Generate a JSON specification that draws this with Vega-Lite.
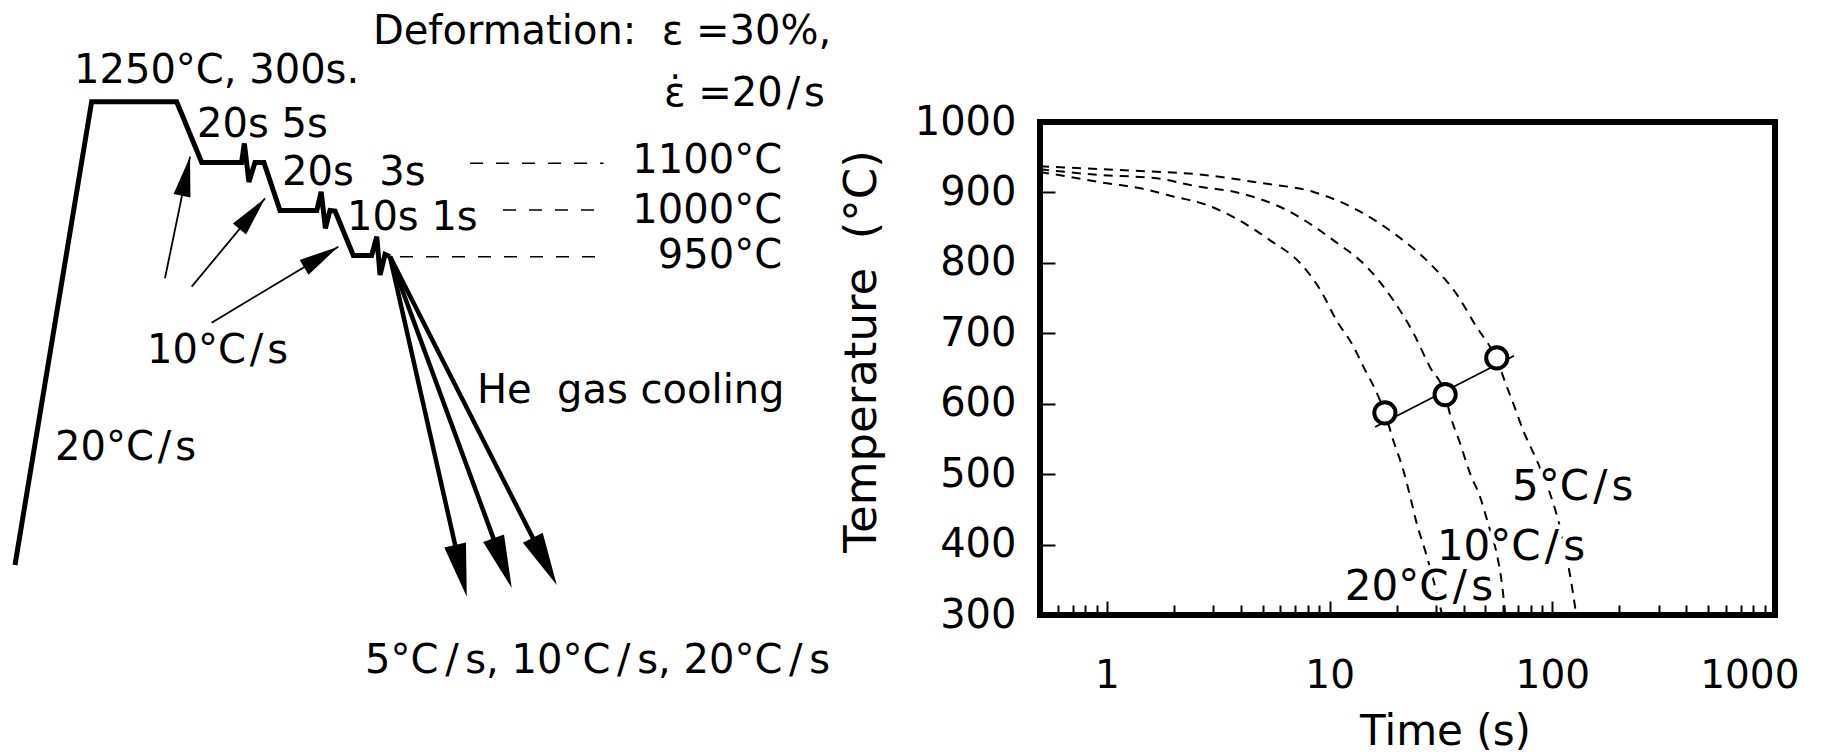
{
  "$schema": "https://vega.github.io/schema/vega-lite/v6.json",
  "width": 735,
  "height": 493,
  "padding": {"left": 1040, "top": 122, "right": 54, "bottom": 140},
  "autosize": {"type": "none"},
  "background": "white",
  "config": {"view": {"stroke": null}, "font": "DejaVu Sans"},
  "datasets": {
    "path": [
      {"step": 1, "sx": 0.82, "sy": 25.17},
      {"step": 2, "sx": 5.01, "sy": 86.53},
      {"step": 3, "sx": 9.66, "sy": 86.53},
      {"step": 4, "sx": 11.03, "sy": 78.48},
      {"step": 5, "sx": 13.21, "sy": 78.48},
      {"step": 6, "sx": 13.36, "sy": 81.0},
      {"step": 7, "sx": 13.61, "sy": 75.89},
      {"step": 8, "sx": 13.94, "sy": 78.48},
      {"step": 9, "sx": 14.43, "sy": 78.48},
      {"step": 10, "sx": 15.31, "sy": 72.12},
      {"step": 11, "sx": 17.32, "sy": 72.12},
      {"step": 12, "sx": 17.56, "sy": 74.61},
      {"step": 13, "sx": 17.79, "sy": 69.76},
      {"step": 14, "sx": 18.04, "sy": 72.12},
      {"step": 15, "sx": 18.32, "sy": 72.05},
      {"step": 16, "sx": 19.32, "sy": 66.16},
      {"step": 17, "sx": 20.32, "sy": 66.16},
      {"step": 18, "sx": 20.6, "sy": 68.65},
      {"step": 19, "sx": 20.78, "sy": 63.58},
      {"step": 20, "sx": 21.05, "sy": 66.29},
      {"step": 21, "sx": 21.32, "sy": 66.03}
    ],
    "levels": [
      {"label": "1100°C", "x0": 25.7, "x1": 33.0, "sy": 78.37, "lx": 42.76, "ly": 77.09},
      {"label": "1000°C", "x0": 27.5, "x1": 33.0, "sy": 72.19, "lx": 42.76, "ly": 70.46},
      {"label": "950°C", "x0": 21.87, "x1": 33.0, "sy": 65.99, "lx": 42.76, "ly": 64.5}
    ],
    "arrows": [
      {"kind": "cooling", "x0": 21.32, "y0": 66.03, "x1": 25.04, "y1": 26.15, "tx": 25.52, "ty": 20.97, "heading": -12.7},
      {"kind": "cooling", "x0": 21.32, "y0": 66.03, "x1": 27.22, "y1": 27.1, "tx": 27.98, "ty": 22.12, "heading": -20.1},
      {"kind": "cooling", "x0": 21.32, "y0": 66.03, "x1": 29.45, "y1": 27.25, "tx": 30.44, "ty": 22.52, "heading": -26.9},
      {"kind": "rate", "x0": 9.02, "y0": 63.14, "x1": 10.39, "y1": 79.25, "tx": 10.39, "ty": 79.25, "heading": -168.4},
      {"kind": "rate", "x0": 10.48, "y0": 62.03, "x1": 14.49, "y1": 73.73, "tx": 14.49, "ty": 73.73, "heading": -140.3},
      {"kind": "rate", "x0": 11.57, "y0": 57.26, "x1": 18.5, "y1": 67.33, "tx": 18.5, "ty": 67.33, "heading": -121.0}
    ],
    "notes": [
      {"note": "Deformation:\u00a0\u00a0ε =30%,", "sx": 20.39, "sy": 94.2},
      {"note": "ε̇ =20\u200a/\u200as", "sx": 36.3, "sy": 85.96},
      {"note": "1250°C, 300s.", "sx": 4.05, "sy": 89.01},
      {"note": "20s 5s", "sx": 10.77, "sy": 81.79},
      {"note": "20s\u00a0\u00a03s", "sx": 15.42, "sy": 75.5},
      {"note": "10s 1s", "sx": 18.97, "sy": 69.54},
      {"note": "10°C\u200a/\u200as", "sx": 8.04, "sy": 51.92},
      {"note": "20°C\u200a/\u200as", "sx": 3.01, "sy": 39.07},
      {"note": "He\u00a0\u00a0gas cooling", "sx": 26.08, "sy": 46.62},
      {"note": "5°C\u2006/\u2006s, 10°C\u2006/\u2006s, 20°C\u2006/\u2006s", "sx": 19.96, "sy": 10.86}
    ],
    "curves": [
      {"rate": "20°C/s", "t": 0.5, "T": 929},
      {"rate": "20°C/s", "t": 0.68, "T": 922},
      {"rate": "20°C/s", "t": 1.0, "T": 913},
      {"rate": "20°C/s", "t": 1.41, "T": 906},
      {"rate": "20°C/s", "t": 2.0, "T": 894},
      {"rate": "20°C/s", "t": 2.7, "T": 884},
      {"rate": "20°C/s", "t": 3.8, "T": 863},
      {"rate": "20°C/s", "t": 5.4, "T": 832},
      {"rate": "20°C/s", "t": 7.4, "T": 799},
      {"rate": "20°C/s", "t": 9.1, "T": 761},
      {"rate": "20°C/s", "t": 10.7, "T": 719},
      {"rate": "20°C/s", "t": 12.8, "T": 681},
      {"rate": "20°C/s", "t": 14.2, "T": 652},
      {"rate": "20°C/s", "t": 16.3, "T": 615},
      {"rate": "20°C/s", "t": 17.7, "T": 587},
      {"rate": "20°C/s", "t": 19.3, "T": 548},
      {"rate": "20°C/s", "t": 21.4, "T": 506},
      {"rate": "20°C/s", "t": 23.0, "T": 468},
      {"rate": "20°C/s", "t": 24.6, "T": 430},
      {"rate": "20°C/s", "t": 26.8, "T": 392},
      {"rate": "20°C/s", "t": 29.5, "T": 345},
      {"rate": "20°C/s", "t": 32.0, "T": 300},
      {"rate": "10°C/s", "t": 0.5, "T": 933},
      {"rate": "10°C/s", "t": 0.9, "T": 925},
      {"rate": "10°C/s", "t": 1.67, "T": 920},
      {"rate": "10°C/s", "t": 2.5, "T": 909},
      {"rate": "10°C/s", "t": 3.95, "T": 899},
      {"rate": "10°C/s", "t": 6.4, "T": 875},
      {"rate": "10°C/s", "t": 10.4, "T": 832},
      {"rate": "10°C/s", "t": 14.7, "T": 794},
      {"rate": "10°C/s", "t": 19.3, "T": 747},
      {"rate": "10°C/s", "t": 23.8, "T": 700},
      {"rate": "10°C/s", "t": 28.2, "T": 652},
      {"rate": "10°C/s", "t": 33.0, "T": 613},
      {"rate": "10°C/s", "t": 34.7, "T": 585},
      {"rate": "10°C/s", "t": 38.5, "T": 544},
      {"rate": "10°C/s", "t": 42.7, "T": 501},
      {"rate": "10°C/s", "t": 47.3, "T": 468},
      {"rate": "10°C/s", "t": 52.0, "T": 425},
      {"rate": "10°C/s", "t": 56.0, "T": 390},
      {"rate": "10°C/s", "t": 59.6, "T": 340},
      {"rate": "10°C/s", "t": 61.5, "T": 300},
      {"rate": "5°C/s", "t": 0.5, "T": 937},
      {"rate": "5°C/s", "t": 1.27, "T": 931},
      {"rate": "5°C/s", "t": 2.5, "T": 926},
      {"rate": "5°C/s", "t": 5.0, "T": 913},
      {"rate": "5°C/s", "t": 8.4, "T": 901},
      {"rate": "5°C/s", "t": 14.2, "T": 870},
      {"rate": "5°C/s", "t": 20.0, "T": 839},
      {"rate": "5°C/s", "t": 28.2, "T": 799},
      {"rate": "5°C/s", "t": 37.1, "T": 756},
      {"rate": "5°C/s", "t": 45.7, "T": 709},
      {"rate": "5°C/s", "t": 52.5, "T": 681},
      {"rate": "5°C/s", "t": 56.3, "T": 665},
      {"rate": "5°C/s", "t": 60.2, "T": 638},
      {"rate": "5°C/s", "t": 66.8, "T": 600},
      {"rate": "5°C/s", "t": 74.0, "T": 562},
      {"rate": "5°C/s", "t": 85.0, "T": 520},
      {"rate": "5°C/s", "t": 97.0, "T": 475},
      {"rate": "5°C/s", "t": 108.0, "T": 426},
      {"rate": "5°C/s", "t": 118.0, "T": 370},
      {"rate": "5°C/s", "t": 124.0, "T": 330},
      {"rate": "5°C/s", "t": 128.0, "T": 300}
    ],
    "onset": [
      {"rate": "20°C/s", "t": 17.7, "T": 587},
      {"rate": "10°C/s", "t": 33.0, "T": 613},
      {"rate": "5°C/s", "t": 56.3, "T": 665}
    ],
    "trend": [
      {"t": 16.0, "T": 567},
      {"t": 67.3, "T": 668}
    ],
    "rateLabels": [
      {"text": "5°C\u200a/\u200as", "t": 65.9, "T": 463},
      {"text": "10°C\u200a/\u200as", "t": 30.3, "T": 378},
      {"text": "20°C\u200a/\u200as", "t": 11.7, "T": 321}
    ]
  },
  "layer": [
    {
      "layer": [
        {
          "data": {"name": "curves"},
          "mark": {"type": "line", "color": "black", "strokeWidth": 2, "strokeDash": [9, 7], "interpolate": "monotone"},
          "encoding": {
            "x": {
              "field": "t", "type": "quantitative", "title": "Time (s)",
              "scale": {"type": "log", "domain": [0.5, 1000], "nice": false},
              "axis": {
                "orient": "bottom",
                "values": [0.6, 0.7, 0.8, 0.9, 1, 2, 3, 4, 5, 6, 7, 8, 9, 10, 20, 30, 40, 50, 60, 70, 80, 90, 100, 200, 300, 400, 500, 600, 700, 800, 900, 1000],
                "domain": false, "grid": false,
                "tickColor": "black", "tickWidth": 2,
                "tickSize": {"condition": {"test": "datum.value == 1 || datum.value == 10 || datum.value == 100 || datum.value == 1000", "value": -14}, "value": -10},
                "labelExpr": "datum.value == 1 || datum.value == 10 || datum.value == 100 || datum.value == 1000 ? format(datum.value, 'd') : ''",
                "labelFont": "DejaVu Sans", "labelFontSize": 39, "labelColor": "black", "labelPadding": 55,
                "labelOverlap": false, "labelFlush": true, "labelFlushOffset": 24, "labelBound": false,
                "titleFont": "DejaVu Sans", "titleFontSize": 42, "titleFontWeight": "normal", "titleColor": "black",
                "titlePadding": 12, "titleX": 405
              }
            },
            "y": {
              "field": "T", "type": "quantitative", "title": "Temperature\u00a0\u00a0(°C)",
              "scale": {"domain": [300, 1000], "nice": false, "zero": false},
              "axis": {
                "orient": "left",
                "values": [300, 400, 500, 600, 700, 800, 900, 1000],
                "format": "d",
                "domain": false, "grid": false,
                "tickColor": "black", "tickWidth": 2, "tickSize": -15,
                "labelFont": "DejaVu Sans", "labelFontSize": 40, "labelColor": "black", "labelPadding": 39,
                "labelOverlap": false, "labelFlush": false, "labelBound": false,
                "titleFont": "DejaVu Sans", "titleFontSize": 45, "titleFontWeight": "normal", "titleColor": "black",
                "titlePadding": 30, "titleY": 229
              }
            },
            "detail": {"field": "rate"}
          }
        },
        {
          "data": {"name": "trend"},
          "mark": {"type": "line", "color": "black", "strokeWidth": 1.8},
          "encoding": {
            "x": {"field": "t", "type": "quantitative"},
            "y": {"field": "T", "type": "quantitative"}
          }
        },
        {
          "data": {"name": "onset"},
          "mark": {"type": "point", "shape": "circle", "size": 450, "filled": true, "fill": "white", "stroke": "black", "strokeWidth": 4, "opacity": 1},
          "encoding": {
            "x": {"field": "t", "type": "quantitative"},
            "y": {"field": "T", "type": "quantitative"}
          }
        },
        {
          "data": {"name": "rateLabels"},
          "mark": {"type": "text", "align": "left", "baseline": "alphabetic", "fontSize": 42, "font": "DejaVu Sans", "fill": "white", "stroke": "white", "strokeWidth": 9},
          "encoding": {
            "x": {"field": "t", "type": "quantitative"},
            "y": {"field": "T", "type": "quantitative"},
            "text": {"field": "text"}
          }
        },
        {
          "data": {"name": "rateLabels"},
          "mark": {"type": "text", "align": "left", "baseline": "alphabetic", "fontSize": 42, "font": "DejaVu Sans", "color": "black"},
          "encoding": {
            "x": {"field": "t", "type": "quantitative"},
            "y": {"field": "T", "type": "quantitative"},
            "text": {"field": "text"}
          }
        },
        {
          "data": {"values": [{}]},
          "mark": {"type": "rect", "fillOpacity": 0, "stroke": "black", "strokeWidth": 6},
          "encoding": {
            "x": {"datum": 0.5, "type": "quantitative"},
            "x2": {"datum": 1000},
            "y": {"datum": 300, "type": "quantitative"},
            "y2": {"datum": 1000}
          }
        }
      ]
    },
    {
      "layer": [
        {
          "data": {"name": "levels"},
          "mark": {"type": "rule", "color": "black", "strokeWidth": 1.6, "strokeDash": [13, 13]},
          "encoding": {
            "x": {"field": "x0", "type": "quantitative", "scale": {"domain": [0, 100], "range": [-1040, 789], "nice": false, "zero": false}, "axis": null},
            "x2": {"field": "x1"},
            "y": {"field": "sy", "type": "quantitative", "scale": {"domain": [0, 100], "range": [633, -122], "nice": false, "zero": false}, "axis": null}
          }
        },
        {
          "data": {"name": "levels"},
          "mark": {"type": "text", "align": "right", "baseline": "alphabetic", "fontSize": 40, "font": "DejaVu Sans", "color": "black"},
          "encoding": {
            "x": {"field": "lx", "type": "quantitative", "axis": null},
            "y": {"field": "ly", "type": "quantitative", "axis": null},
            "text": {"field": "label"}
          }
        },
        {
          "data": {"name": "path"},
          "mark": {"type": "line", "color": "black", "strokeWidth": 5, "strokeJoin": "miter"},
          "encoding": {
            "x": {"field": "sx", "type": "quantitative", "axis": null},
            "y": {"field": "sy", "type": "quantitative", "axis": null},
            "order": {"field": "step"}
          }
        },
        {
          "data": {"name": "arrows"},
          "transform": [{"filter": "datum.kind == 'cooling'"}],
          "mark": {"type": "rule", "color": "black", "strokeWidth": 4.5},
          "encoding": {
            "x": {"field": "x0", "type": "quantitative", "axis": null},
            "y": {"field": "y0", "type": "quantitative", "axis": null},
            "x2": {"field": "x1"},
            "y2": {"field": "y1"}
          }
        },
        {
          "data": {"name": "arrows"},
          "transform": [{"filter": "datum.kind == 'rate'"}],
          "mark": {"type": "rule", "color": "black", "strokeWidth": 1.8},
          "encoding": {
            "x": {"field": "x0", "type": "quantitative", "axis": null},
            "y": {"field": "y0", "type": "quantitative", "axis": null},
            "x2": {"field": "x1"},
            "y2": {"field": "y1"}
          }
        },
        {
          "data": {"name": "arrows"},
          "transform": [{"filter": "datum.kind == 'cooling'"}],
          "mark": {"type": "point", "shape": "M0,0L-0.42,-2L0.42,-2Z", "size": 2800, "filled": true, "color": "black", "opacity": 1},
          "encoding": {
            "x": {"field": "tx", "type": "quantitative", "axis": null},
            "y": {"field": "ty", "type": "quantitative", "axis": null},
            "angle": {"field": "heading", "type": "quantitative", "scale": null}
          }
        },
        {
          "data": {"name": "arrows"},
          "transform": [{"filter": "datum.kind == 'rate'"}],
          "mark": {"type": "point", "shape": "M0,0L-0.43,-2L0.43,-2Z", "size": 1600, "filled": true, "color": "black", "opacity": 1},
          "encoding": {
            "x": {"field": "tx", "type": "quantitative", "axis": null},
            "y": {"field": "ty", "type": "quantitative", "axis": null},
            "angle": {"field": "heading", "type": "quantitative", "scale": null}
          }
        },
        {
          "data": {"name": "notes"},
          "mark": {"type": "text", "align": "left", "baseline": "alphabetic", "fontSize": 40, "font": "DejaVu Sans", "color": "black"},
          "encoding": {
            "x": {"field": "sx", "type": "quantitative", "axis": null},
            "y": {"field": "sy", "type": "quantitative", "axis": null},
            "text": {"field": "note"}
          }
        }
      ]
    }
  ],
  "resolve": {"scale": {"x": "independent", "y": "independent"}}
}
